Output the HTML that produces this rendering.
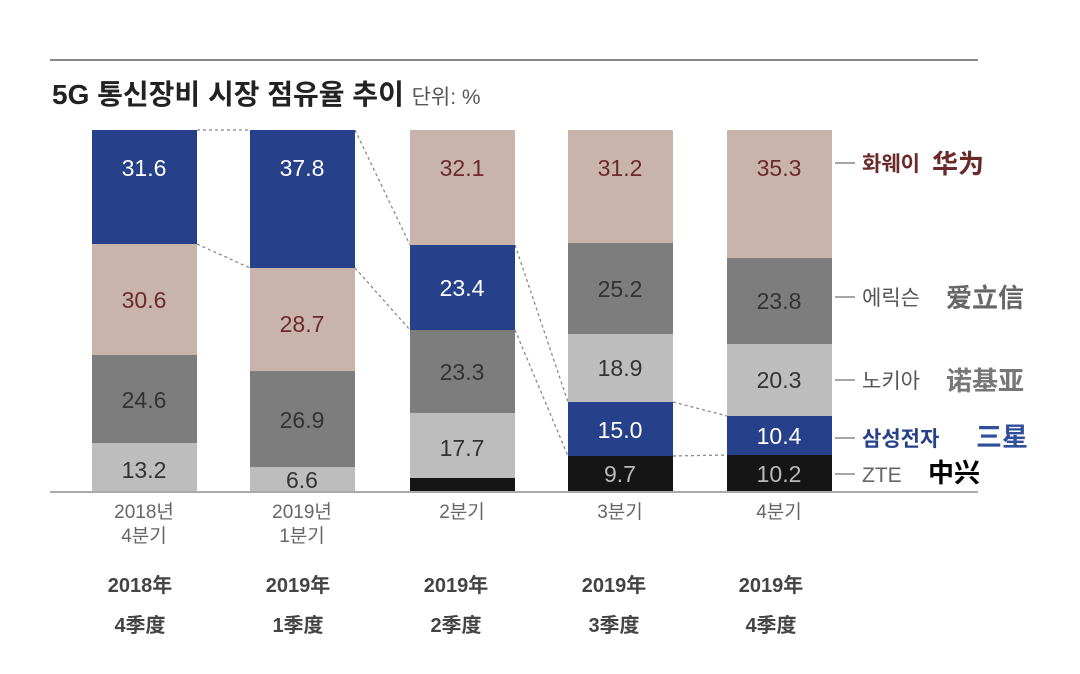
<!DOCTYPE html>
<html><head><meta charset="utf-8"><style>
html,body{margin:0;padding:0;background:#fff}
svg{display:block}
text{font-family:"Liberation Sans","Noto Sans CJK KR",sans-serif}
.v{font-size:23px;text-anchor:middle}
.w{fill:#fff}.r{fill:#6b2a2a}.d{fill:#333}.g{fill:#bbb}
.ax{font-size:19px;fill:#666;text-anchor:middle}
.cn{font-size:20px;font-weight:bold;fill:#444;text-anchor:middle;font-family:"Liberation Sans","Noto Sans CJK SC",sans-serif}
.lg{font-size:21px}
.lc{font-size:26px;font-family:"Liberation Sans","Noto Sans CJK SC",sans-serif;font-weight:bold}
</style></head><body>
<svg width="1080" height="674" viewBox="0 0 1080 674">
<line x1="50" y1="60" x2="978" y2="60" stroke="#888" stroke-width="2"/>
<text x="52" y="104" font-size="28" font-weight="bold" fill="#222">5G 통신장비 시장 점유율 추이 <tspan font-size="21" font-weight="normal" fill="#555">단위: %</tspan></text>
<g fill="none" stroke="#888" stroke-width="1.3" stroke-dasharray="3,3">
<line x1="197" y1="130" x2="250" y2="130"/><line x1="197" y1="244" x2="250" y2="268"/>
<line x1="355" y1="130" x2="410" y2="245"/><line x1="355" y1="268" x2="410" y2="330"/>
<line x1="515" y1="245" x2="568" y2="402"/><line x1="515" y1="330" x2="568" y2="456"/>
<line x1="673" y1="402" x2="727" y2="416"/><line x1="673" y1="456" x2="727" y2="455"/>
</g>
<rect x="92" y="130" width="105" height="114" fill="#26418a"/>
<rect x="92" y="244" width="105" height="111" fill="#c9b4ac"/>
<rect x="92" y="355" width="105" height="88" fill="#7d7d7d"/>
<rect x="92" y="443" width="105" height="49" fill="#bdbdbd"/>
<text class="v w" x="144" y="176">31.6</text><text class="v r" x="144" y="308">30.6</text>
<text class="v d" x="144" y="408">24.6</text><text class="v d" x="144" y="478">13.2</text>
<rect x="250" y="130" width="105" height="138" fill="#26418a"/>
<rect x="250" y="268" width="105" height="103" fill="#c9b4ac"/>
<rect x="250" y="371" width="105" height="96" fill="#7d7d7d"/>
<rect x="250" y="467" width="105" height="25" fill="#bdbdbd"/>
<text class="v w" x="302" y="176">37.8</text><text class="v r" x="302" y="332">28.7</text>
<text class="v d" x="302" y="428">26.9</text><text class="v d" x="302" y="488">6.6</text>
<rect x="410" y="130" width="105" height="115" fill="#c9b4ac"/>
<rect x="410" y="245" width="105" height="85" fill="#26418a"/>
<rect x="410" y="330" width="105" height="83" fill="#7d7d7d"/>
<rect x="410" y="413" width="105" height="65" fill="#bdbdbd"/>
<rect x="410" y="478" width="105" height="14" fill="#151515"/>
<text class="v r" x="462" y="176">32.1</text><text class="v w" x="462" y="296">23.4</text>
<text class="v d" x="462" y="380">23.3</text><text class="v d" x="462" y="456">17.7</text>
<rect x="568" y="130" width="105" height="113" fill="#c9b4ac"/>
<rect x="568" y="243" width="105" height="91" fill="#7d7d7d"/>
<rect x="568" y="334" width="105" height="68" fill="#bdbdbd"/>
<rect x="568" y="402" width="105" height="54" fill="#26418a"/>
<rect x="568" y="456" width="105" height="36" fill="#151515"/>
<text class="v r" x="620" y="176">31.2</text><text class="v d" x="620" y="297">25.2</text>
<text class="v d" x="620" y="376">18.9</text><text class="v w" x="620" y="438">15.0</text>
<text class="v g" x="620" y="482">9.7</text>
<rect x="727" y="130" width="105" height="128" fill="#c9b4ac"/>
<rect x="727" y="258" width="105" height="86" fill="#7d7d7d"/>
<rect x="727" y="344" width="105" height="72" fill="#bdbdbd"/>
<rect x="727" y="416" width="105" height="39" fill="#26418a"/>
<rect x="727" y="455" width="105" height="37" fill="#151515"/>
<text class="v r" x="779" y="176">35.3</text><text class="v d" x="779" y="309">23.8</text>
<text class="v d" x="779" y="388">20.3</text><text class="v w" x="779" y="444">10.4</text>
<text class="v g" x="779" y="482">10.2</text>
<line x1="50" y1="492" x2="978" y2="492" stroke="#aaa" stroke-width="2"/>
<g stroke="#888" stroke-width="1.5">
<line x1="835" y1="163" x2="855" y2="163"/><line x1="835" y1="297" x2="855" y2="297"/>
<line x1="835" y1="380" x2="855" y2="380"/><line x1="835" y1="438" x2="855" y2="438"/>
<line x1="835" y1="474" x2="855" y2="474"/></g>
<text class="lg" x="862" y="171" fill="#6b2a2a" font-weight="bold">화웨이</text>
<text class="lc" x="932" y="173" fill="#6b2a2a">华为</text>
<text class="lg" x="862" y="305" fill="#555">에릭슨</text>
<text class="lc" x="946" y="307" fill="#666">爱立信</text>
<text class="lg" x="862" y="388" fill="#555">노키아</text>
<text class="lc" x="946" y="390" fill="#777" font-weight="normal">诺基亚</text>
<text class="lg" x="862" y="446" fill="#26418a" font-weight="bold">삼성전자</text>
<text class="lc" x="976" y="446" fill="#2f4f9a" font-weight="normal">三星</text>
<text class="lg" x="862" y="482" fill="#666">ZTE</text>
<text class="lc" x="928" y="482" fill="#000">中兴</text>
<text class="ax" x="144" y="518">2018년</text><text class="ax" x="144" y="542">4분기</text>
<text class="ax" x="302" y="518">2019년</text><text class="ax" x="302" y="542">1분기</text>
<text class="ax" x="462" y="518">2분기</text><text class="ax" x="620" y="518">3분기</text><text class="ax" x="779" y="518">4분기</text>
<text class="cn" x="140" y="592">2018年</text><text class="cn" x="140" y="632">4季度</text>
<text class="cn" x="298" y="592">2019年</text><text class="cn" x="298" y="632">1季度</text>
<text class="cn" x="456" y="592">2019年</text><text class="cn" x="456" y="632">2季度</text>
<text class="cn" x="614" y="592">2019年</text><text class="cn" x="614" y="632">3季度</text>
<text class="cn" x="771" y="592">2019年</text><text class="cn" x="771" y="632">4季度</text>
</svg>
</body></html>
